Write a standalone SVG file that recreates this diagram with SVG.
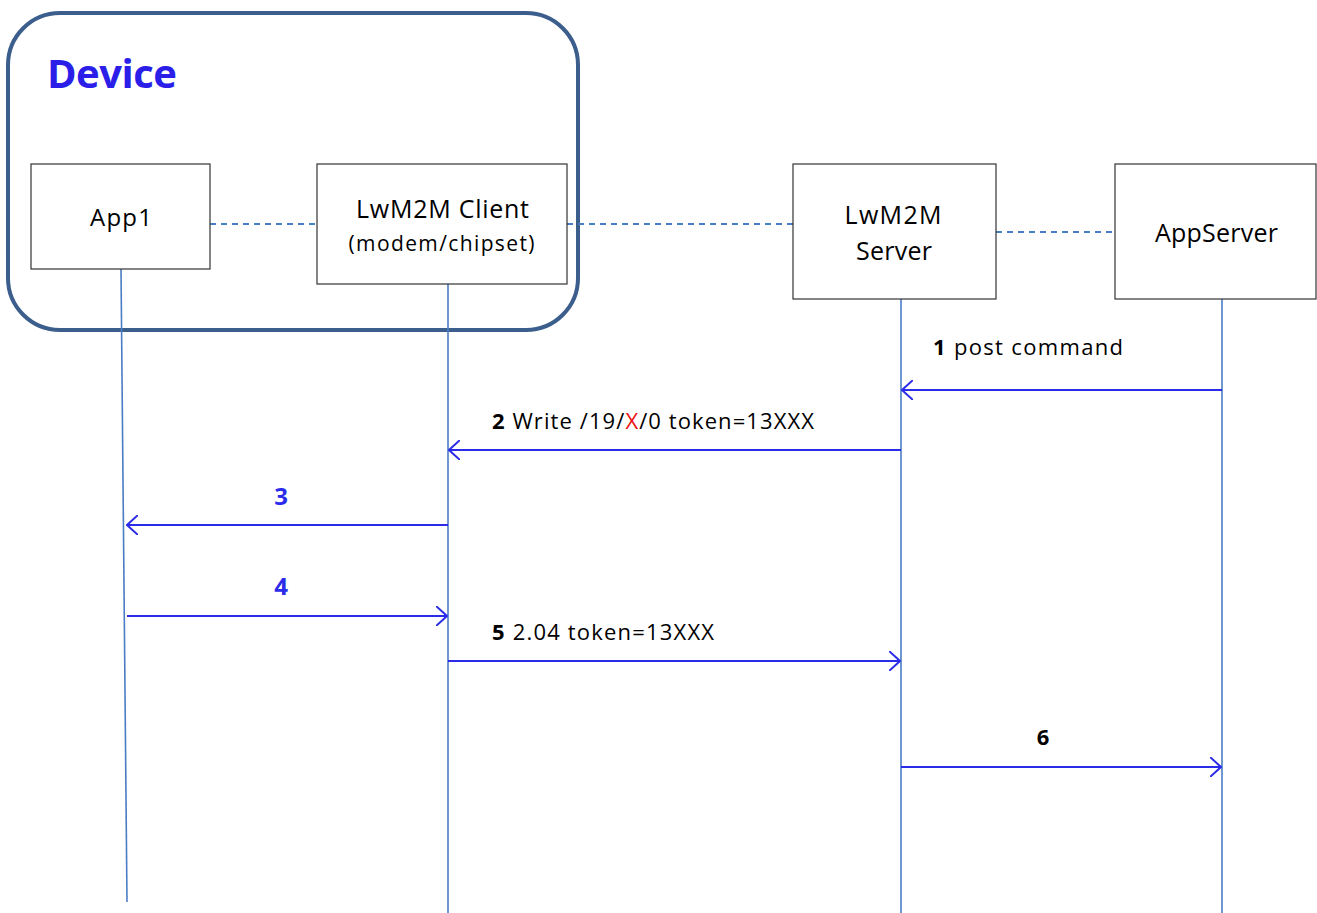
<svg xmlns="http://www.w3.org/2000/svg" width="1317" height="913" viewBox="0 0 1317 913">
<style>
.box{fill:#fff;stroke:#333;stroke-width:1.2}
.t{font-family:"Open Sans","Liberation Sans",sans-serif;fill:#000}
.life{stroke:#4a7cc4;stroke-width:1.6;fill:none}
.dash{stroke:#4a7cc4;stroke-width:1.8;stroke-dasharray:6,5;fill:none}
.msg{stroke:#2b2bea;stroke-width:2;fill:none}
.lbl{font-family:"Open Sans","Liberation Sans",sans-serif;font-size:22px;fill:#000}
.num{font-family:"Open Sans","Liberation Sans",sans-serif;font-size:24px;font-weight:bold;fill:#2b2bea}
</style>
<defs>
<marker id="ah" viewBox="0 0 12 20" refX="11" refY="10" markerWidth="12" markerHeight="20" markerUnits="userSpaceOnUse" orient="auto">
<path d="M0,0 L11,10 L0,20" fill="none" stroke="#2b2bea" stroke-width="2"/>
</marker>
</defs>
<g id="device">
<rect x="8" y="13" width="570" height="317" rx="52" ry="52" fill="none" stroke="#3c5e8c" stroke-width="4"/>
<text x="47" y="88" font-family="Open Sans, Liberation Sans, sans-serif" font-size="40" font-weight="bold" fill="#2a1ee8" textLength="130">Device</text>
</g>
<g id="lifelines">
<line class="life" x1="121" y1="269" x2="127" y2="902"/>
<line class="life" x1="448" y1="284" x2="448" y2="913"/>
<line class="life" x1="901" y1="299" x2="901" y2="913"/>
<line class="life" x1="1222" y1="299" x2="1222" y2="913"/>
<line class="dash" x1="210" y1="224" x2="317" y2="224"/>
<line class="dash" x1="567" y1="224" x2="793" y2="224"/>
<line class="dash" x1="996" y1="232" x2="1115" y2="232"/>
</g>
<g id="app1">
<rect class="box" x="31" y="164" width="179" height="105"/>
<text class="t" x="121" y="226" font-size="24" text-anchor="middle" textLength="62">App1</text>
</g>
<g id="client">
<rect class="box" x="317" y="164" width="250" height="120"/>
<text class="t" x="442.5" y="218" font-size="25" text-anchor="middle" textLength="173">LwM2M Client</text>
<text class="t" x="441.5" y="251" font-size="21" text-anchor="middle" textLength="186">(modem/chipset)</text>
</g>
<g id="server">
<rect class="box" x="793" y="164" width="203" height="135"/>
<text class="t" x="893" y="224" font-size="25" text-anchor="middle" textLength="97">LwM2M</text>
<text class="t" x="894" y="260" font-size="25" text-anchor="middle" textLength="76">Server</text>
</g>
<g id="appserver">
<rect class="box" x="1115" y="164" width="201" height="135"/>
<text class="t" x="1216.5" y="242" font-size="25" text-anchor="middle" textLength="123">AppServer</text>
</g>
<g id="connectors">
<line class="msg" x1="1222" y1="390" x2="902" y2="390" marker-end="url(#ah)"/>
<line class="msg" x1="901" y1="450" x2="449" y2="450" marker-end="url(#ah)"/>
<line class="msg" x1="448" y1="525" x2="127" y2="525" marker-end="url(#ah)"/>
<line class="msg" x1="127" y1="616" x2="447" y2="616" marker-end="url(#ah)"/>
<line class="msg" x1="448" y1="661" x2="900" y2="661" marker-end="url(#ah)"/>
<line class="msg" x1="901" y1="767" x2="1221" y2="767" marker-end="url(#ah)"/>
<text class="lbl" x="933" y="355" textLength="190"><tspan font-weight="bold">1</tspan> post command</text>
<text class="lbl" x="492" y="429" textLength="322"><tspan font-weight="bold">2</tspan> Write /19/<tspan fill="#ee1111">X</tspan>/0 token=13XXX</text>
<text class="num" x="281" y="505" text-anchor="middle">3</text>
<text class="num" x="281" y="595" text-anchor="middle">4</text>
<text class="lbl" x="492" y="640" textLength="222"><tspan font-weight="bold">5</tspan>  2.04 token=13XXX</text>
<text class="lbl" x="1043" y="745" text-anchor="middle" font-weight="bold" font-size="24">6</text>
</g>
</svg>
